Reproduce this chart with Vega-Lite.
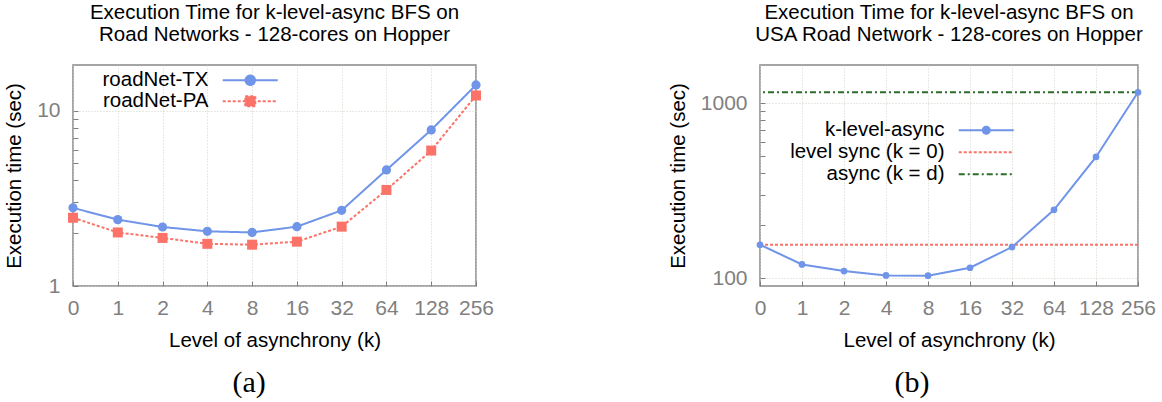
{
  "$schema": "https://vega.github.io/schema/vega-lite/v6.json",
  "background": "white",
  "padding": {"left": 3, "top": 1, "right": 0, "bottom": 0},
  "spacing": 172,
  "resolve": {
    "scale": {"color": "independent"},
    "legend": {"color": "independent"}
  },
  "config": {
    "font": "Liberation Sans",
    "view": {"stroke": "#888888", "strokeWidth": 1.5},
    "axis": {
      "labelFontSize": 21,
      "labelColor": "#808080",
      "labelFont": "Liberation Sans",
      "titleFontSize": 20.5,
      "titleFontWeight": "normal",
      "titleColor": "#000000",
      "titleFont": "Liberation Sans",
      "domain": false,
      "tickColor": "#808080",
      "tickWidth": 1,
      "tickSize": -5,
      "grid": true,
      "gridColor": "#d2d2c6",
      "gridDash": [1, 2],
      "gridWidth": 1,
      "labelOverlap": false,
      "labelFlush": false
    },
    "axisX": {"labelAngle": 0, "labelPadding": 16, "titlePadding": 12},
    "axisY": {"labelPadding": 18, "titlePadding": 12},
    "legend": {
      "labelFontSize": 20.5,
      "labelFont": "Liberation Sans",
      "labelColor": "#000000",
      "labelAlign": "right",
      "labelOffset": -52,
      "padding": 0,
      "symbolSize": 100,
      "symbolStrokeWidth": 2,
      "labelLimit": 400
    }
  },
  "datasets": {
    "roads": [
      {"series": "roadNet-TX", "k": "0", "time": 2.79},
      {"series": "roadNet-TX", "k": "1", "time": 2.39},
      {"series": "roadNet-TX", "k": "2", "time": 2.17},
      {"series": "roadNet-TX", "k": "4", "time": 2.05},
      {"series": "roadNet-TX", "k": "8", "time": 2.02},
      {"series": "roadNet-TX", "k": "16", "time": 2.18},
      {"series": "roadNet-TX", "k": "32", "time": 2.7},
      {"series": "roadNet-TX", "k": "64", "time": 4.59},
      {"series": "roadNet-TX", "k": "128", "time": 7.76},
      {"series": "roadNet-TX", "k": "256", "time": 14.0},
      {"series": "roadNet-PA", "k": "0", "time": 2.45},
      {"series": "roadNet-PA", "k": "1", "time": 2.02},
      {"series": "roadNet-PA", "k": "2", "time": 1.88},
      {"series": "roadNet-PA", "k": "4", "time": 1.74},
      {"series": "roadNet-PA", "k": "8", "time": 1.72},
      {"series": "roadNet-PA", "k": "16", "time": 1.79},
      {"series": "roadNet-PA", "k": "32", "time": 2.18},
      {"series": "roadNet-PA", "k": "64", "time": 3.53},
      {"series": "roadNet-PA", "k": "128", "time": 5.92},
      {"series": "roadNet-PA", "k": "256", "time": 12.2}
    ],
    "usa": [
      {"series": "k-level-async", "k": "0", "time": 155},
      {"series": "k-level-async", "k": "1", "time": 119.6},
      {"series": "k-level-async", "k": "2", "time": 109.6},
      {"series": "k-level-async", "k": "4", "time": 103.5},
      {"series": "k-level-async", "k": "8", "time": 103.1},
      {"series": "k-level-async", "k": "16", "time": 114.5},
      {"series": "k-level-async", "k": "32", "time": 150.4},
      {"series": "k-level-async", "k": "64", "time": 245.5},
      {"series": "k-level-async", "k": "128", "time": 493},
      {"series": "k-level-async", "k": "256", "time": 1156}
    ],
    "refs": [
      {"series": "level sync (k = 0)", "time": 155},
      {"series": "async (k = d)", "time": 1156}
    ]
  },
  "hconcat": [
    {
      "title": {"text": "(a)", "orient": "bottom", "anchor": "middle", "frame": "bounds", "font": "Liberation Serif", "fontSize": 30, "fontWeight": "normal", "color": "#000000", "offset": 17},
      "vconcat": [
        {
          "width": 403,
          "height": 221,
          "title": {"text": ["Execution Time for k-level-async BFS on", "Road Networks - 128-cores on Hopper"], "anchor": "middle", "frame": "group", "fontSize": 20.5, "fontWeight": "normal", "lineHeight": 22, "color": "#000000", "offset": 20},
          "data": {"name": "roads"},
          "encoding": {
            "x": {"field": "k", "type": "ordinal", "sort": null, "scale": {"type": "point", "padding": 0}, "title": "Level of asynchrony (k)"},
            "y": {"field": "time", "type": "quantitative", "title": "Execution time (sec)",
              "scale": {"type": "log", "domain": [1, 18.2], "nice": false},
              "axis": {"values": [1, 2, 3, 4, 5, 6, 7, 8, 9, 10], "labelExpr": "datum.value == 1 || datum.value == 10 ? datum.value : ''",
                "gridOpacity": {"condition": {"test": "datum.value == 1 || datum.value == 10", "value": 1}, "value": 0}}},
            "color": {"field": "series", "type": "nominal",
              "scale": {"domain": ["roadNet-TX", "roadNet-PA"], "range": ["#6f94e8", "#fa7268"]},
              "legend": {"title": null, "orient": "none", "legendX": 167, "legendY": 5, "rowPadding": 0,
                "encode": {"symbols": {"update": {
                  "shape": [{"test": "datum.value === 'roadNet-PA'", "value": "M-5.5,0H5.5M-1,-1H1V1H-1Z"}, {"value": "M-5.5,0H5.5M-0.95,0A0.95,0.95,0,1,1,0.95,0A0.95,0.95,0,1,1,-0.95,0Z"}],
                  "stroke": [{"test": "datum.value === 'roadNet-PA'", "value": "#fa7268"}, {"value": "#6f94e8"}],
                  "fill": [{"test": "datum.value === 'roadNet-PA'", "value": "#fa7268"}, {"value": "#6f94e8"}],
                  "fillOpacity": {"value": 1},
                  "opacity": {"value": 1},
                  "strokeWidth": {"value": 2},
                  "size": {"value": 100},
                  "strokeDash": [{"test": "datum.value === 'roadNet-PA'", "value": [3, 2]}, {"value": [1, 0]}]
                }}}}}
          },
          "layer": [
            {"mark": {"type": "line", "strokeWidth": 2},
              "encoding": {"strokeDash": {"field": "series", "type": "nominal", "scale": {"domain": ["roadNet-TX", "roadNet-PA"], "range": [[1, 0], [3, 2]]}, "legend": null}}},
            {"mark": {"type": "point", "filled": true, "opacity": 1},
              "encoding": {
                "shape": {"field": "series", "type": "nominal", "scale": {"domain": ["roadNet-TX", "roadNet-PA"], "range": ["circle", "square"]}, "legend": null},
                "size": {"field": "series", "type": "nominal", "scale": {"domain": ["roadNet-TX", "roadNet-PA"], "range": [85, 100]}, "legend": null}}}
          ]
        }
      ]
    },
    {
      "title": {"text": "(b)", "orient": "bottom", "anchor": "middle", "frame": "bounds", "font": "Liberation Serif", "fontSize": 30, "fontWeight": "normal", "color": "#000000", "offset": 17},
      "vconcat": [
        {
          "width": 378,
          "height": 221,
          "title": {"text": ["Execution Time for k-level-async BFS on", "USA Road Network - 128-cores on Hopper"], "anchor": "middle", "frame": "group", "fontSize": 20.5, "fontWeight": "normal", "lineHeight": 22, "color": "#000000", "offset": 20},
          "encoding": {
            "y": {"field": "time", "type": "quantitative", "title": "Execution time (sec)",
              "scale": {"type": "log", "domain": [90, 1656], "nice": false},
              "axis": {"values": [100, 200, 300, 400, 500, 600, 700, 800, 900, 1000], "labelExpr": "datum.value == 100 || datum.value == 1000 ? datum.value : ''",
                "gridOpacity": {"condition": {"test": "datum.value == 100 || datum.value == 1000", "value": 1}, "value": 0}}},
            "color": {"field": "series", "type": "nominal",
              "scale": {"domain": ["k-level-async", "level sync (k = 0)", "async (k = d)"], "range": ["#6f94e8", "#fa7268", "#2a6e2a"]},
              "legend": {"title": null, "orient": "none", "legendX": 216, "legendY": 55, "rowPadding": 1,
                "encode": {"symbols": {"update": {
                  "shape": [{"test": "datum.value === 'k-level-async'", "value": "M-5.5,0H5.5M-0.7,0A0.7,0.7,0,1,1,0.7,0A0.7,0.7,0,1,1,-0.7,0Z"}, {"value": "M-5.5,0H5.5"}],
                  "stroke": [{"test": "datum.value === 'k-level-async'", "value": "#6f94e8"}, {"test": "datum.value === 'level sync (k = 0)'", "value": "#fa7268"}, {"value": "#2a6e2a"}],
                  "fill": [{"test": "datum.value === 'k-level-async'", "value": "#6f94e8"}, {"value": "transparent"}],
                  "fillOpacity": {"value": 1},
                  "opacity": {"value": 1},
                  "strokeWidth": {"value": 2},
                  "size": {"value": 100},
                  "strokeDash": [{"test": "datum.value === 'level sync (k = 0)'", "value": [3, 2]}, {"test": "datum.value === 'async (k = d)'", "value": [6, 3, 2, 3]}, {"value": [1, 0]}]
                }}}}}
          },
          "layer": [
            {"data": {"name": "refs"}, "transform": [{"filter": "datum.series === 'level sync (k = 0)'"}],
              "mark": {"type": "rule", "strokeWidth": 2, "strokeDash": [3, 2]}, "encoding": {}},
            {"data": {"name": "refs"}, "transform": [{"filter": "datum.series === 'async (k = d)'"}],
              "mark": {"type": "rule", "strokeWidth": 2, "strokeDash": [6, 3, 2, 3]}, "encoding": {}},
            {"data": {"name": "usa"}, "mark": {"type": "line", "strokeWidth": 2},
              "encoding": {"x": {"field": "k", "type": "ordinal", "sort": null, "scale": {"type": "point", "padding": 0}, "title": "Level of asynchrony (k)"}}},
            {"data": {"name": "usa"}, "mark": {"type": "point", "filled": true, "opacity": 1, "size": 45},
              "encoding": {"x": {"field": "k", "type": "ordinal", "sort": null, "scale": {"type": "point", "padding": 0}, "title": "Level of asynchrony (k)"}}}
          ]
        }
      ]
    }
  ]
}
